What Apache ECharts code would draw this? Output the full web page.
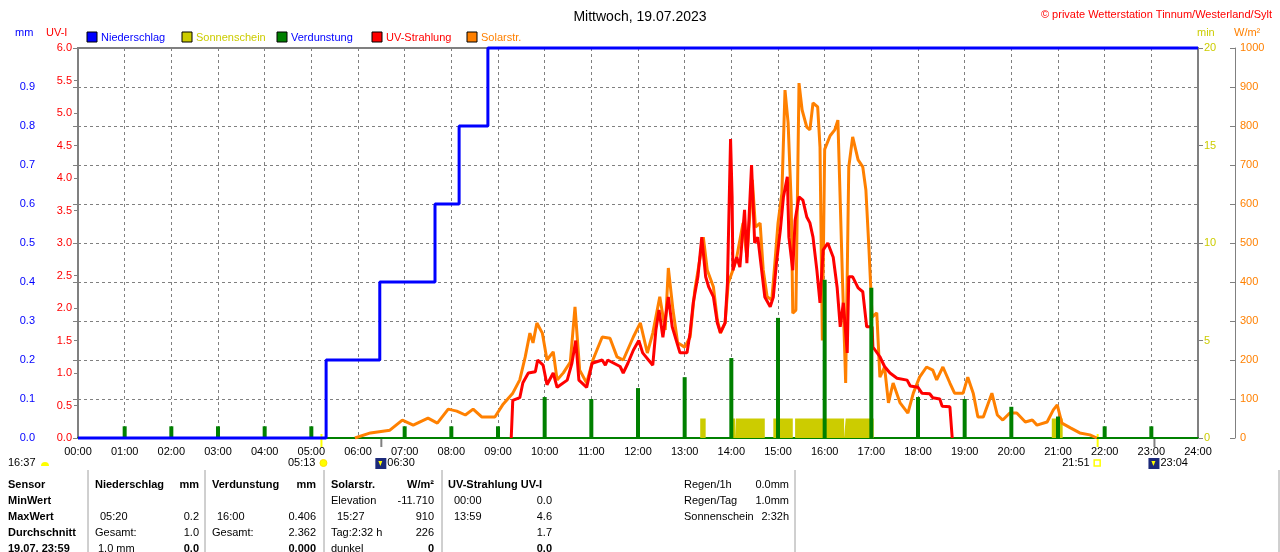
<!DOCTYPE html>
<html>
<head>
<meta charset="utf-8">
<title>Mittwoch, 19.07.2023</title>
<script src="https://cdn.jsdelivr.net/npm/echarts@6/dist/echarts.min.js"></script>
<style>
  html, body { margin: 0; padding: 0; background: #fff; }
  #chart { width: 1280px; height: 552px; }
</style>
</head>
<body>
<div id="chart"></div>
<script>
// Niederschlag (cumulative mm): value reached from that time on
const rainSteps = [
  ["00:00", 0.0], ["05:19", 0.2], ["06:28", 0.4], ["07:39", 0.6],
  ["08:10", 0.8], ["08:47", 1.0], ["24:00", 1.0]
]

// Verdunstung per hour (mm)
const evapHours = ["01:00", "02:00", "03:00", "04:00", "05:00", "07:00", "08:00", "09:00", "10:00", "11:00",
  "12:00", "13:00", "14:00", "15:00", "16:00", "17:00", "18:00", "19:00", "20:00", "21:00", "22:00", "23:00"]
const evapValues = [0.03, 0.03, 0.03, 0.03, 0.03, 0.03, 0.03, 0.03, 0.105, 0.10,
  0.128, 0.156, 0.205, 0.308, 0.406, 0.385, 0.105, 0.10, 0.08, 0.055, 0.03, 0.03]

// Sonnenschein: sunny periods (1 min per minute)
const sunIntervals = [
  ["13:20", "13:27"], ["14:02", "14:05"], ["14:06", "14:43"], ["14:54", "15:19"],
  ["15:22", "16:25"], ["16:27", "17:03"], ["20:52", "21:06"]
]

// Solarstrahlung (W/m²)
const solar = [
  ["05:56", 0], ["06:16", 13], ["06:41", 20], ["06:57", 46], ["07:11", 33], ["07:30", 51], ["07:42", 38],
  ["07:56", 74], ["08:07", 69], ["08:18", 59], ["08:28", 74], ["08:39", 54], ["08:56", 54], ["09:06", 85],
  ["09:19", 115], ["09:28", 149], ["09:35", 208], ["09:41", 269], ["09:45", 244], ["09:50", 295], ["09:57", 269],
  ["10:03", 200], ["10:11", 221], ["10:16", 149], ["10:24", 167], ["10:33", 195], ["10:39", 336], ["10:45", 174],
  ["10:54", 141], ["11:02", 200], ["11:14", 259], ["11:24", 256], ["11:33", 208], ["11:41", 200], ["11:54", 259],
  ["12:03", 295], ["12:12", 218], ["12:19", 269], ["12:28", 362], ["12:35", 277], ["12:39", 436], ["12:45", 328],
  ["12:51", 244], ["13:00", 233], ["13:07", 259], ["13:13", 379], ["13:20", 464], ["13:24", 515], ["13:29", 431],
  ["13:37", 387], ["13:42", 303], ["13:46", 269], ["13:52", 295], ["13:56", 397], ["14:02", 431], ["14:07", 464],
  ["14:15", 551], ["14:20", 464], ["14:27", 662], ["14:31", 541], ["14:37", 551], ["14:41", 431], ["14:46", 362],
  ["14:52", 354], ["14:56", 449], ["15:00", 551], ["15:05", 628], ["15:09", 892], ["15:13", 808], ["15:17", 603],
  ["15:19", 320], ["15:23", 328], ["15:27", 910], ["15:31", 841], ["15:37", 797], ["15:41", 790], ["15:45", 859],
  ["15:51", 849], ["15:54", 746], ["15:57", 250], ["16:00", 740], ["16:07", 775], ["16:13", 790], ["16:17", 815],
  ["16:23", 400], ["16:27", 141], ["16:31", 695], ["16:36", 772], ["16:43", 713], ["16:49", 695], ["16:53", 636],
  ["16:57", 482], ["17:01", 310], ["17:07", 321], ["17:11", 156], ["17:17", 182], ["17:22", 90], ["17:28", 141],
  ["17:37", 90], ["17:47", 64], ["17:54", 115], ["18:02", 156], ["18:11", 182], ["18:19", 174], ["18:24", 149],
  ["18:32", 182], ["18:41", 141], ["18:47", 115], ["18:58", 115], ["19:04", 156], ["19:11", 115], ["19:17", 54],
  ["19:24", 54], ["19:35", 115], ["19:42", 59], ["19:49", 46], ["19:58", 64], ["20:07", 64], ["20:18", 41],
  ["20:27", 46], ["20:33", 33], ["20:46", 41], ["20:54", 72], ["20:59", 85], ["21:05", 38], ["21:16", 26],
  ["21:28", 13], ["21:41", 8], ["21:50", 0]
]

// UV-Strahlung (UV-I)
const uv = [
  ["09:17", 0], ["09:19", 0.58], ["09:28", 0.62], ["09:32", 0.85], ["09:39", 1.0], ["09:48", 1.02], ["09:51", 1.2],
  ["09:58", 1.12], ["10:03", 0.82], ["10:11", 1.0], ["10:16", 0.78], ["10:29", 0.89], ["10:35", 1.15], ["10:40", 1.5],
  ["10:44", 0.89], ["10:54", 0.78], ["11:01", 1.15], ["11:14", 1.2], ["11:18", 1.12], ["11:21", 1.2], ["11:37", 1.1],
  ["11:41", 1.0], ["11:47", 1.15], ["11:54", 1.35], ["12:01", 1.5], ["12:06", 1.31], ["12:19", 1.12], ["12:23", 1.66],
  ["12:27", 1.97], ["12:32", 1.55], ["12:39", 2.17], ["12:44", 1.71], ["12:48", 1.55], ["12:54", 1.31], ["13:03", 1.31],
  ["13:07", 1.62], ["13:11", 2.08], ["13:17", 2.48], ["13:22", 3.09], ["13:27", 2.48], ["13:31", 2.32], ["13:37", 2.17],
  ["13:42", 1.77], ["13:46", 1.62], ["13:52", 1.77], ["13:55", 2.38], ["13:59", 4.6], ["14:01", 3.71], ["14:02", 2.58],
  ["14:07", 2.78], ["14:11", 2.63], ["14:17", 3.51], ["14:20", 2.69], ["14:26", 4.2], ["14:30", 3.0], ["14:34", 3.09],
  ["14:39", 2.58], ["14:43", 2.17], ["14:50", 2.02], ["14:54", 2.17], ["14:58", 2.69], ["15:03", 3.2], ["15:07", 3.71],
  ["15:12", 4.02], ["15:14", 3.09], ["15:19", 2.58], ["15:22", 3.35], ["15:27", 3.71], ["15:32", 3.66], ["15:37", 3.4],
  ["15:41", 3.31], ["15:45", 3.09], ["15:50", 2.58], ["15:54", 2.08], ["15:58", 2.89], ["16:04", 3.0], ["16:11", 2.78],
  ["16:16", 2.32], ["16:20", 1.71], ["16:24", 2.08], ["16:29", 1.31], ["16:31", 2.48], ["16:36", 2.48], ["16:43", 2.31],
  ["16:49", 2.25], ["16:54", 1.71], ["17:01", 1.71], ["17:02", 1.4], ["17:11", 1.25], ["17:17", 1.1], ["17:24", 1.0],
  ["17:33", 0.92], ["17:46", 0.89], ["17:50", 0.8], ["18:00", 0.78], ["18:05", 0.69], ["18:15", 0.68], ["18:19", 0.62],
  ["18:28", 0.6], ["18:31", 0.49], ["18:41", 0.48], ["18:44", 0]
]

// sun / moon events shown under the time axis
const sunEvents = [
  {time: "05:13", kind: "sunrise"},
  {time: "06:30", kind: "moonrise"},
  {time: "21:51", kind: "sunset"},
  {time: "23:04", kind: "moonset"}
]

const legendItems = [
  ["Niederschlag", "#0000FF", "#0000FF"],
  ["Sonnenschein", "#CCCC00", "#CCCC00"],
  ["Verdunstung", "#008000", "#0000FF"],
  ["UV-Strahlung", "#FF0000", "#FF0000"],
  ["Solarstr.", "#FF8000", "#FF8000"]
]

// axis unit captions: [text, x, color]
const axisUnits = [["mm", 15, "#0000FF"], ["UV-I", 46, "#FF0000"], ["min", 1197, "#CCCC00"], ["W/m²", 1234, "#FF8000"]]

// table cells: [text, x, row, align, bold]
const tableCells = [
  ["Sensor", 8, 0, "left", true], ["MinWert", 8, 1, "left", true], ["MaxWert", 8, 2, "left", true],
  ["Durchschnitt", 8, 3, "left", true], ["19.07. 23:59", 8, 4, "left", true],
  ["Niederschlag", 95, 0, "left", true], ["mm", 199, 0, "right", true],
  ["05:20", 100, 2, "left"], ["0.2", 199, 2, "right"], ["Gesamt:", 95, 3, "left"], ["1.0", 199, 3, "right"],
  ["1.0 mm", 98, 4, "left"], ["0.0", 199, 4, "right", true],
  ["Verdunstung", 212, 0, "left", true], ["mm", 316, 0, "right", true],
  ["16:00", 217, 2, "left"], ["0.406", 316, 2, "right"], ["Gesamt:", 212, 3, "left"], ["2.362", 316, 3, "right"],
  ["0.000", 316, 4, "right", true],
  ["Solarstr.", 331, 0, "left", true], ["W/m²", 434, 0, "right", true],
  ["Elevation", 331, 1, "left"], ["-11.710", 434, 1, "right"], ["15:27", 337, 2, "left"], ["910", 434, 2, "right"],
  ["Tag:2:32 h", 331, 3, "left"], ["226", 434, 3, "right"], ["dunkel", 331, 4, "left"], ["0", 434, 4, "right", true],
  ["UV-Strahlung UV-I", 448, 0, "left", true],
  ["00:00", 454, 1, "left"], ["0.0", 552, 1, "right"], ["13:59", 454, 2, "left"], ["4.6", 552, 2, "right"],
  ["1.7", 552, 3, "right"], ["0.0", 552, 4, "right", true],
  ["Regen/1h", 684, 0, "left"], ["0.0mm", 789, 0, "right"],
  ["Regen/Tag", 684, 1, "left"], ["1.0mm", 789, 1, "right"],
  ["Sonnenschein", 684, 2, "left"], ["2:32h", 789, 2, "right"]
]
const tableRowsY = [485, 501, 517, 533, 549]
const tableDividers = [88, 205, 324, 442, 795, 1279]

const FONT = "'Liberation Sans', Arial, sans-serif"
const GRAY = "#808080"

const toHours = (s) => {
  const [h, m] = s.split(":").map(Number)
  return h + m / 60
}
const pad = (n) => String(n).padStart(2, "0")

const sunData = []
sunIntervals.forEach(([s, e]) => {
  const a = toHours(s), b = toHours(e)
  sunData.push([a, 0], [a, 1], [b, 1], [b, 0])
})

const chart = echarts.init(document.getElementById("chart"))

const option = {
  animation: false,
  textStyle: {fontFamily: FONT},
  title: [
    {text: "Mittwoch, 19.07.2023", left: "center", top: 5,
      textStyle: {fontSize: 14, fontWeight: "normal", color: "#000", fontFamily: FONT}},
    {text: "© private Wetterstation Tinnum/Westerland/Sylt", right: 3, top: 4,
      textStyle: {fontSize: 11, fontWeight: "normal", color: "#FF0000", fontFamily: FONT}}
  ],
  grid: {left: 78, right: 82, top: 48, bottom: 114, show: true, borderColor: GRAY, borderWidth: 2},
  xAxis: {
    type: "value", min: 0, max: 24, interval: 1,
    axisLine: {show: true, lineStyle: {color: "#008000", width: 2}},
    axisTick: {show: false},
    axisLabel: {color: "#000", fontSize: 11, margin: 8, formatter: (v) => pad(v) + ":00"},
    splitLine: {show: true, lineStyle: {color: GRAY, type: [3, 3], width: 1}}
  },
  yAxis: [
    {
      type: "value", min: 0, max: 1, interval: 0.1, position: "left", offset: 37,
      axisLine: {show: true, lineStyle: {color: GRAY, width: 1}},
      axisTick: {show: true, length: 5, lineStyle: {color: GRAY}},
      axisLabel: {color: "#0000FF", fontSize: 11, margin: 6, formatter: (v) => v >= 0.999 ? "" : v.toFixed(1)},
      splitLine: {show: true, lineStyle: {color: GRAY, type: [3, 3], width: 1}}
    },
    {
      type: "value", min: 0, max: 6, interval: 0.5, position: "left", offset: 0,
      axisLine: {show: true, lineStyle: {color: GRAY, width: 2}},
      axisTick: {show: true, length: 4, lineStyle: {color: GRAY}},
      axisLabel: {color: "#FF0000", fontSize: 11, margin: 6, formatter: (v) => v.toFixed(1)},
      splitLine: {show: false}
    },
    {
      type: "value", min: 0, max: 20, interval: 5, position: "right", offset: 0,
      axisLine: {show: true, lineStyle: {color: GRAY, width: 2}},
      axisTick: {show: true, length: 5, lineStyle: {color: GRAY}},
      axisLabel: {color: "#CCCC00", fontSize: 11, margin: 6},
      splitLine: {show: false}
    },
    {
      type: "value", min: 0, max: 1000, interval: 100, position: "right", offset: 37,
      axisLine: {show: true, lineStyle: {color: GRAY, width: 1}},
      axisTick: {show: true, inside: true, length: 5, lineStyle: {color: GRAY}},
      axisLabel: {color: "#FF8000", fontSize: 11, margin: 5, formatter: (v) => String(v)},
      splitLine: {show: false}
    }
  ],
  series: [
    {
      name: "Sonnenschein", type: "line", yAxisIndex: 2, data: sunData,
      symbol: "none", lineStyle: {width: 0}, areaStyle: {color: "#CCCC00", opacity: 1}, z: 1, silent: true
    },
    {
      name: "Solarstr.", type: "line", yAxisIndex: 3,
      data: solar.map(([t, v]) => [toHours(t), v]),
      symbol: "none", lineStyle: {color: "#FF8000", width: 3}, z: 2
    },
    {
      name: "UV-Strahlung", type: "line", yAxisIndex: 1,
      data: uv.map(([t, v]) => [toHours(t), v]),
      symbol: "none", lineStyle: {color: "#FF0000", width: 3}, z: 3
    },
    {
      name: "Verdunstung", type: "bar", yAxisIndex: 0, barWidth: 4,
      data: evapHours.map((t, i) => [toHours(t), evapValues[i]]),
      itemStyle: {color: "#008000"}, z: 4
    },
    {
      name: "Niederschlag", type: "line", yAxisIndex: 0, step: "end", clip: false,
      data: rainSteps.map(([t, v]) => [toHours(t), v]),
      symbol: "none", lineStyle: {color: "#0000FF", width: 3}, z: 5
    }
  ]
}

chart.setOption(option)

// legend, unit captions, event markers and data table as graphic elements
const graphics = []
const txt = (text, x, y, color, align, bold, size) => ({
  type: "text", x, y, silent: true,
  style: {text, fill: color || "#000", align: align || "left", verticalAlign: "middle",
    font: (bold ? "bold " : "") + (size || 11) + "px " + FONT}
})

legendItems.forEach(([name, box, color], i) => {
  const x = 87 + i * 95
  graphics.push({type: "rect", shape: {x, y: 32, width: 10, height: 10},
    style: {fill: box, stroke: "#000", lineWidth: 1}, silent: true})
  graphics.push(txt(name, x + 14, 38, color))
})

axisUnits.forEach(([text, x, color]) => graphics.push(txt(text, x, 33, color)))

// moonset from the previous day, shown at the far left
graphics.push(txt("16:37", 8, 463))
graphics.push({type: "sector", shape: {cx: 45, cy: 466, r0: 0, r: 4, startAngle: Math.PI, endAngle: 2 * Math.PI},
  style: {fill: "#FFFF00"}, silent: true})

sunEvents.forEach(({time, kind}) => {
  const x = chart.convertToPixel({xAxisIndex: 0}, toHours(time))
  if (kind === "sunrise" || kind === "sunset") {
    graphics.push({type: "line", shape: {x1: x, y1: 434, x2: x, y2: 447},
      style: {stroke: "#FFFF00", lineWidth: 2}, silent: true})
  } else {
    graphics.push({type: "line", shape: {x1: x, y1: 439, x2: x, y2: 447},
      style: {stroke: GRAY, lineWidth: 2}, silent: true})
  }
  if (kind === "sunrise") {
    graphics.push(txt(time, x - 6, 463, "#000", "right"))
    graphics.push({type: "circle", shape: {cx: x + 2, cy: 463, r: 3.5},
      style: {fill: "#FFFF00", stroke: "#FFE000", lineWidth: 1}, silent: true})
  } else if (kind === "sunset") {
    graphics.push(txt(time, x - 8, 463, "#000", "right"))
    graphics.push({type: "rect", shape: {x: x - 3.5, y: 460, width: 6, height: 6},
      style: {fill: "none", stroke: "#FFFF00", lineWidth: 1.5}, silent: true})
  } else {
    graphics.push({type: "rect", shape: {x: x - 6, y: 458, width: 11, height: 11},
      style: {fill: "#1C2A7A"}, silent: true})
    graphics.push({type: "polygon", shape: {points: [[x - 3, 461], [x + 1, 461], [x - 1, 466]]},
      style: {fill: "#FFFF00"}, silent: true})
    graphics.push(txt(time, x + 6, 463))
  }
})

tableDividers.forEach((x) => {
  graphics.push({type: "line", shape: {x1: x, y1: 470, x2: x, y2: 552},
    style: {stroke: "#A0A0A0", lineWidth: 1}, silent: true})
})
tableCells.forEach(([text, x, row, align, bold]) => {
  graphics.push(txt(text, x, tableRowsY[row], "#000", align, bold))
})

chart.setOption({graphic: graphics})

window.addEventListener("resize", () => chart.resize())
</script>
</body>
</html>
